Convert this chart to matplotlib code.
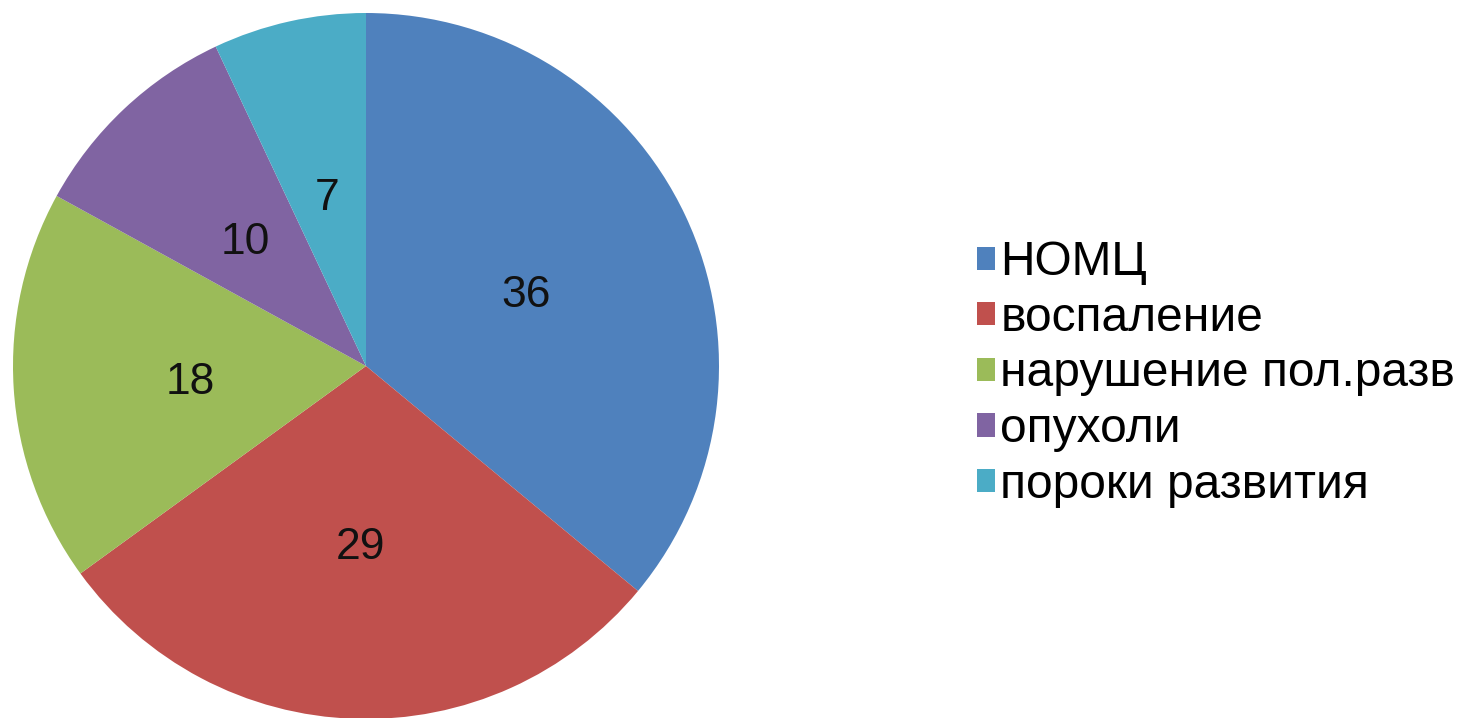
import matplotlib
matplotlib.use("Agg")
import matplotlib.pyplot as plt
from matplotlib.patches import Patch
from matplotlib.transforms import offset_copy

categories = ["НОМЦ", "воспаление", "нарушение пол.разв", "опухоли", "пороки развития"]
values = [36, 29, 18, 10, 7]
colors = ["#4F81BD", "#C0504D", "#9BBB59", "#8064A2", "#4BACC6"]

plt.rcParams['font.family'] = ['Liberation Sans', 'DejaVu Sans']

W, H = 1463, 718
fig = plt.figure(figsize=(W / 100, H / 100), dpi=100)

cx, cy, r = 366, 352, 353
ax = fig.add_axes([(cx - r) / W, (cy - r) / H, 2 * r / W, 2 * r / H])

wedges, texts, autotexts = ax.pie(
    values, colors=colors, startangle=90, counterclock=False, radius=1,
    autopct=lambda p: f"{p * sum(values) / 100:.0f}", pctdistance=0.5,
    wedgeprops=dict(linewidth=0), textprops=dict(fontsize=32, color='#111111'))
ax.set_xlim(-1, 1)
ax.set_ylim(-1, 1)
ax.axis('off')
shifted = offset_copy(ax.transData, fig=fig, x=0, y=-5, units='dots')
for t in autotexts:
    t.set_transform(shifted)

handles = [Patch(facecolor=c, edgecolor='none') for c in colors]
fig.legend(handles, categories, loc='center left',
           bbox_to_anchor=(977 / W, 344 / H), frameon=False,
           fontsize=34.5, handlelength=0.37, handleheight=0.37,
           handletextpad=0.12, labelspacing=0.22, borderpad=0, borderaxespad=0)

fig.savefig("out.png", dpi=100, facecolor='white')
